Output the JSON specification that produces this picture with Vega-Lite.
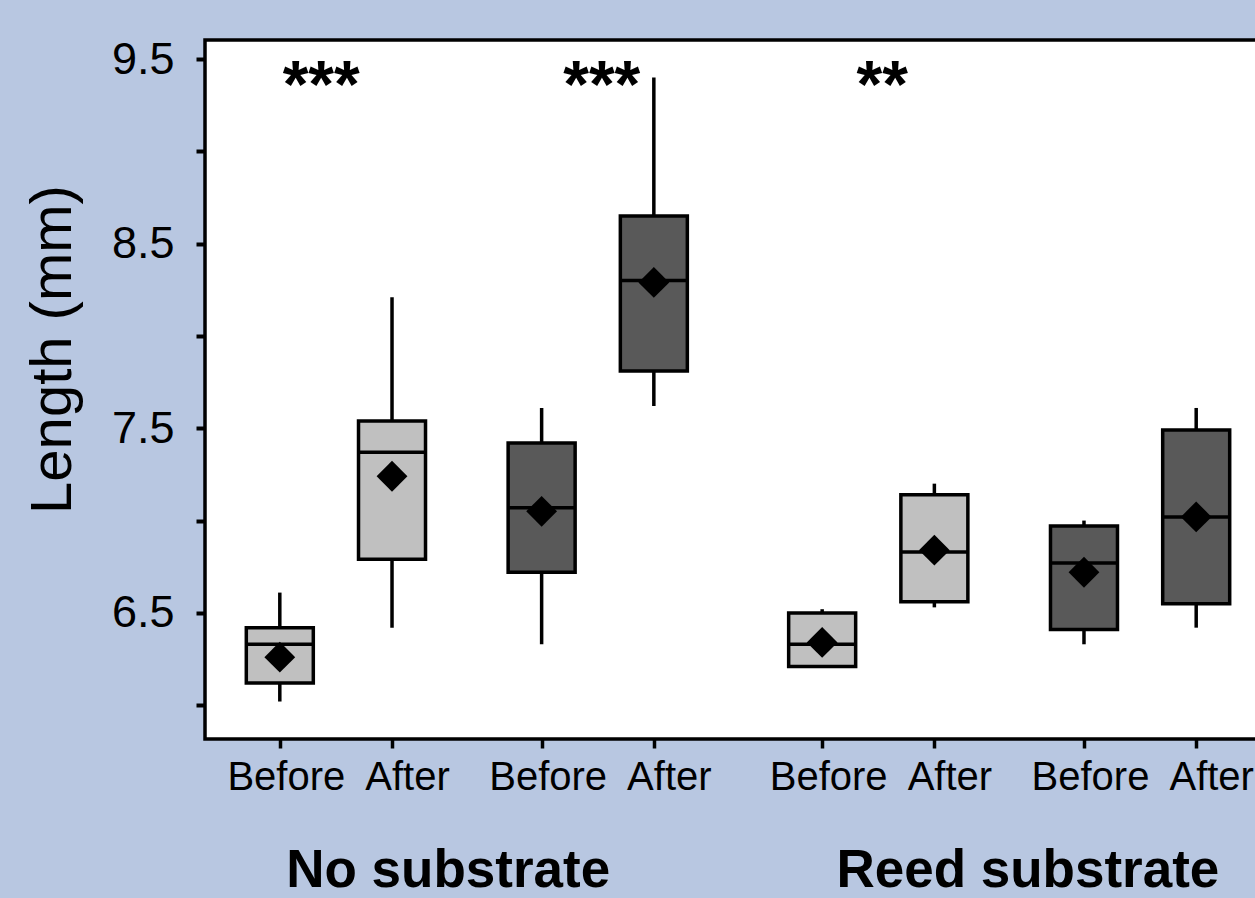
{
  "$schema": "https://vega.github.io/schema/vega-lite/v6.json",
  "width": 1066,
  "height": 699,
  "autosize": {"type": "none"},
  "padding": {"left": 205, "top": 40, "right": 0, "bottom": 159},
  "background": "#b8c7e1",
  "config": {
    "view": {"fill": "white", "stroke": "black", "strokeWidth": 3.5},
    "font": "Liberation Sans"
  },
  "datasets": {
    "boxes": [
      {"id": "NS-L-Before", "substrate": "No substrate", "series": "light", "time": "Before", "lo": 6.02, "q1": 6.12, "median": 6.33, "q3": 6.42, "hi": 6.61, "mean": 6.26},
      {"id": "NS-L-After", "substrate": "No substrate", "series": "light", "time": "After", "lo": 6.42, "q1": 6.79, "median": 7.37, "q3": 7.54, "hi": 8.21, "mean": 7.24},
      {"id": "NS-D-Before", "substrate": "No substrate", "series": "dark", "time": "Before", "lo": 6.33, "q1": 6.72, "median": 7.07, "q3": 7.42, "hi": 7.61, "mean": 7.05},
      {"id": "NS-D-After", "substrate": "No substrate", "series": "dark", "time": "After", "lo": 7.62, "q1": 7.81, "median": 8.30, "q3": 8.65, "hi": 9.40, "mean": 8.29},
      {"id": "RS-L-Before", "substrate": "Reed substrate", "series": "light", "time": "Before", "lo": 6.21, "q1": 6.21, "median": 6.33, "q3": 6.50, "hi": 6.52, "mean": 6.34},
      {"id": "RS-L-After", "substrate": "Reed substrate", "series": "light", "time": "After", "lo": 6.53, "q1": 6.56, "median": 6.83, "q3": 7.14, "hi": 7.20, "mean": 6.84},
      {"id": "RS-D-Before", "substrate": "Reed substrate", "series": "dark", "time": "Before", "lo": 6.33, "q1": 6.41, "median": 6.77, "q3": 6.97, "hi": 7.00, "mean": 6.72},
      {"id": "RS-D-After", "substrate": "Reed substrate", "series": "dark", "time": "After", "lo": 6.42, "q1": 6.55, "median": 7.02, "q3": 7.49, "hi": 7.61, "mean": 7.02}
    ],
    "sig": [
      {"id": "sig1", "label": "***"},
      {"id": "sig2", "label": "***"},
      {"id": "sig3", "label": "**"}
    ],
    "groups": [
      {"id": "grpNS", "label": "No substrate"},
      {"id": "grpRS", "label": "Reed substrate"}
    ]
  },
  "encoding": {
    "x": {
      "field": "id",
      "type": "nominal",
      "scale": {
        "type": "point",
        "padding": 1.07,
        "domain": ["m1","m2","m3","NS-L-Before","g1","sig1","g3","g4","g5","NS-L-After","g7","g8","grpNS","g10","g11","g12","g13","NS-D-Before","g15","g16","sig2","g18","g19","NS-D-After","g21","g22","g23","g24","g25","g26","g27","g28","RS-L-Before","g30","g31","sig3","g33","g34","RS-L-After","g36","g37","g38","g39","grpRS","g41","g42","RS-D-Before","g44","g45","g46","g47","g48","RS-D-After","m4","m5","m6"]
      },
      "axis": {
        "values": ["NS-L-Before","NS-L-After","NS-D-Before","NS-D-After","RS-L-Before","RS-L-After","RS-D-Before","RS-D-After"],
        "labelExpr": "split(datum.value, '-')[2]",
        "title": null,
        "domain": false,
        "labelAngle": 0,
        "labelFont": "Liberation Sans",
        "labelFontSize": 40,
        "labelColor": "black",
        "labelPadding": 9,
        "labelOffset": {"condition": {"test": "indexof(datum.value, 'After') >= 0", "value": 15}, "value": 6},
        "ticks": true,
        "tickColor": "black",
        "tickWidth": 3.5,
        "tickSize": 9,
        "grid": false
      }
    }
  },
  "layer": [
    {
      "data": {"name": "boxes"},
      "mark": {"type": "rule", "color": "black", "strokeWidth": 3.5},
      "encoding": {
        "y": {
          "field": "lo",
          "type": "quantitative",
          "scale": {"domain": [5.817, 9.603], "nice": false, "zero": false},
          "axis": {
            "values": [6, 6.5, 7, 7.5, 8, 8.5, 9, 9.5],
            "labelExpr": "datum.value % 1 == 0.5 ? format(datum.value, '.1f') : ''",
            "title": "Length (mm)",
            "titleFontSize": 58,
            "titleFontWeight": "normal",
            "titleColor": "black",
            "titlePadding": 29,
            "titleY": 309,
            "labelFontSize": 45,
            "labelColor": "black",
            "labelPadding": 22,
            "tickColor": "black",
            "tickWidth": 4,
            "tickSize": 9,
            "domain": false,
            "grid": false
          }
        },
        "y2": {"field": "hi"}
      }
    },
    {
      "data": {"name": "boxes"},
      "mark": {"type": "bar", "size": 67, "stroke": "black", "strokeWidth": 3.5},
      "encoding": {
        "y": {"field": "q1", "type": "quantitative"},
        "y2": {"field": "q3"},
        "fill": {
          "field": "series",
          "type": "nominal",
          "scale": {"domain": ["light", "dark"], "range": ["#c0c0c0", "#595959"]},
          "legend": null
        }
      }
    },
    {
      "data": {"name": "boxes"},
      "mark": {"type": "tick", "size": 67, "thickness": 3.5, "color": "black", "opacity": 1, "orient": "horizontal"},
      "encoding": {
        "y": {"field": "median", "type": "quantitative"}
      }
    },
    {
      "data": {"name": "boxes"},
      "mark": {"type": "point", "shape": "diamond", "filled": true, "size": 950, "color": "black", "opacity": 1},
      "encoding": {
        "y": {"field": "mean", "type": "quantitative"}
      }
    },
    {
      "data": {"name": "sig"},
      "mark": {"type": "text", "fontSize": 66, "fontWeight": "bold", "color": "black", "align": "center", "baseline": "alphabetic", "dx": 4},
      "encoding": {
        "y": {"datum": 9.24, "type": "quantitative"},
        "text": {"field": "label"}
      }
    },
    {
      "data": {"name": "groups"},
      "mark": {"type": "text", "fontSize": 53, "fontWeight": "bold", "color": "black", "align": "center", "baseline": "alphabetic"},
      "encoding": {
        "y": {"datum": 5.015, "type": "quantitative"},
        "text": {"field": "label"}
      }
    }
  ]
}
